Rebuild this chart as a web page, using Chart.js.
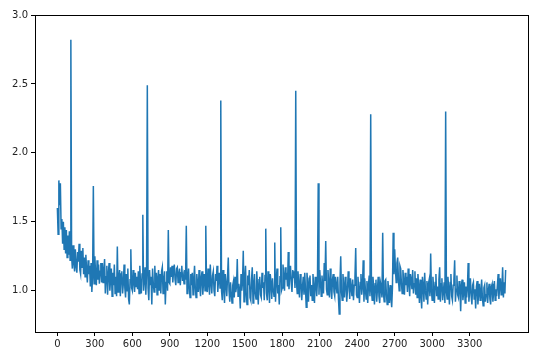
<!DOCTYPE html>
<html>
<head>
<meta charset="utf-8">
<script src="https://cdn.jsdelivr.net/npm/chart.js@4.4.1/dist/chart.umd.min.js"></script>
<style>
  body { margin: 0; background: #fff; }
  #chart { display: block; }
</style>
</head>
<body>
<canvas id="chart" width="540" height="360"></canvas>
<script>
// one reading every 6 steps along x
const sampleStep = 6;

// values (20 per 120 steps), zig-zagging through the noise band
const series = [
  1.60, 1.41, 1.80, 1.62, 1.78, 1.45, 1.52, 1.34, 1.50, 1.30,
  1.46, 1.27, 1.44, 1.24, 1.40, 1.26, 1.43, 1.22, 2.82, 1.25,
  1.16, 1.33, 1.20, 1.14, 1.30, 1.18, 1.13, 1.28, 1.21, 1.34,
  1.15, 1.12, 1.29, 1.17, 1.31, 1.12, 1.24, 1.10, 1.26, 1.15,
  1.06, 1.22, 1.12, 1.18, 1.03, 1.20, 0.99, 1.10, 1.76, 1.05,
  1.25, 1.12, 1.04, 1.22, 1.08, 1.19, 1.05, 1.14, 1.20, 1.06,
  1.20, 1.06, 1.15, 1.23, 0.98, 1.10, 1.18, 0.97, 1.12, 1.20,
  1.00, 1.08, 1.16, 0.96, 1.13, 1.04, 1.19, 0.98, 1.10, 0.96,
  1.32, 0.99, 1.09, 1.15, 0.96, 1.12, 1.14, 0.98, 1.05, 1.19,
  1.02, 0.95, 1.12, 1.00, 1.16, 0.94, 0.90, 1.08, 1.30, 1.02,
  1.00, 1.15, 1.06, 0.99, 1.13, 1.03, 1.10, 1.01, 1.14, 0.98,
  1.18, 1.04, 0.98, 1.12, 1.55, 1.00, 1.08, 1.17, 0.97, 1.12,
  2.49, 1.02, 0.93, 1.15, 1.04, 1.10, 0.90, 1.16, 1.05, 0.99,
  1.18, 1.02, 1.13, 0.97, 1.09, 1.15, 1.00, 1.12, 0.98, 1.14,
  1.17, 0.98, 1.08, 1.14, 0.90, 1.06, 1.14, 1.00, 1.44, 1.06,
  1.05, 1.17, 1.10, 1.18, 1.06, 1.14, 1.19, 1.08, 1.04, 1.16,
  1.17, 1.06, 1.12, 1.16, 1.04, 1.13, 1.18, 1.07, 1.11, 1.05,
  1.15, 1.08, 1.47, 0.98, 1.06, 1.16, 1.02, 0.95, 1.12, 1.04,
  1.13, 0.97, 1.08, 1.18, 1.02, 0.95, 1.12, 1.05, 0.99, 1.15,
  1.03, 0.96, 1.10, 1.14, 0.97, 1.06, 1.12, 1.00, 1.47, 1.03,
  0.99, 1.16, 1.05, 0.97, 1.19, 1.06, 0.98, 1.11, 1.14, 1.00,
  0.96, 1.12, 1.07, 1.18, 0.99, 1.08, 1.13, 1.02, 2.38, 1.00,
  0.93, 1.15, 1.02, 0.91, 1.12, 1.05, 0.96, 1.10, 1.24, 1.00,
  0.92, 1.06, 0.98, 0.91, 1.04, 1.07, 0.95, 1.10, 0.99, 1.03,
  1.23, 0.96, 1.05, 1.01, 0.87, 1.12, 1.00, 1.06, 1.29, 0.92,
  1.09, 1.18, 0.97, 0.90, 1.11, 1.04, 1.15, 0.95, 0.93, 1.08,
  1.17, 0.91, 1.04, 1.12, 0.98, 0.94, 1.14, 1.03, 0.90, 1.08,
  1.10, 0.97, 0.95, 1.13, 1.02, 1.06, 0.93, 1.11, 1.45, 0.98,
  0.93, 1.14, 1.03, 0.91, 1.12, 1.06, 0.94, 1.09, 1.01, 0.96,
  1.35, 0.92, 1.07, 1.16, 0.98, 1.04, 0.90, 1.10, 1.46, 1.00,
  1.02, 1.19, 1.10, 1.00, 1.17, 1.08, 1.13, 1.03, 1.28, 1.01,
  1.12, 1.18, 1.05, 0.99, 1.15, 1.09, 1.14, 1.02, 2.45, 1.06,
  0.98, 1.14, 1.04, 0.95, 1.12, 1.07, 0.93, 1.03, 1.10, 0.97,
  1.13, 1.01, 0.88, 1.13, 1.05, 0.92, 1.09, 1.11, 0.96, 1.04,
  0.93, 1.12, 1.02, 0.91, 1.10, 1.05, 0.96, 1.08, 1.78, 0.97,
  1.15, 1.06, 0.96, 1.11, 1.03, 0.98, 1.20, 1.07, 1.36, 1.01,
  0.97, 1.15, 1.05, 0.95, 1.16, 1.03, 0.94, 1.08, 1.12, 0.99,
  0.96, 1.10, 1.04, 0.98, 1.10, 0.94, 0.83, 1.06, 1.25, 0.99,
  0.93, 1.12, 1.03, 0.95, 1.10, 1.06, 0.92, 1.00, 1.14, 1.05,
  0.94, 1.09, 1.02, 0.96, 1.08, 0.93, 1.04, 1.10, 1.31, 0.97,
  0.95, 1.10, 1.01, 0.91, 1.06, 1.12, 0.97, 1.03, 1.22, 0.92,
  1.09, 1.00, 0.94, 1.07, 0.91, 1.04, 1.11, 0.96, 2.28, 1.00,
  0.93, 1.10, 1.02, 0.90, 1.05, 1.08, 0.92, 1.01, 1.10, 0.96,
  0.91, 1.06, 1.03, 0.95, 1.42, 0.98, 0.92, 1.07, 1.08, 0.97,
  0.90, 1.07, 1.00, 0.91, 1.04, 0.95, 0.88, 1.02, 1.42, 1.12,
  1.30, 1.15, 1.06, 1.20, 1.24, 1.08, 1.00, 1.18, 1.16, 1.05,
  0.98, 1.15, 1.07, 0.97, 1.13, 1.04, 1.10, 0.99, 1.16, 1.06,
  0.96, 1.12, 1.08, 1.01, 1.15, 0.98, 1.05, 1.14, 0.97, 1.09,
  0.95, 1.12, 1.03, 0.91, 1.08, 0.97, 0.87, 1.10, 1.04, 0.92,
  1.13, 1.00, 0.94, 1.07, 0.90, 1.05, 1.08, 0.96, 1.27, 1.00,
  0.93, 1.10, 1.01, 0.91, 1.06, 1.12, 0.96, 1.03, 0.94, 1.08,
  1.17, 0.92, 1.05, 1.09, 0.93, 1.00, 1.06, 0.91, 2.30, 0.99,
  0.94, 1.10, 1.02, 0.90, 1.06, 1.12, 0.96, 0.93, 1.04, 1.08,
  1.22, 0.92, 1.01, 1.11, 0.97, 0.95, 1.07, 1.02, 0.85, 1.04,
  1.08, 0.93, 0.99, 1.06, 0.91, 1.03, 0.95, 1.02, 1.20, 0.92,
  1.00, 1.09, 0.96, 0.90, 1.04, 1.06, 0.94, 1.01, 0.87, 1.03,
  1.07, 0.90, 0.98, 1.05, 0.93, 0.99, 1.08, 0.95, 0.89, 1.02,
  1.04, 0.92, 0.97, 1.06, 0.91, 1.00, 1.05, 0.94, 0.90, 1.03,
  1.05, 0.92, 0.99, 1.07, 0.93, 1.01, 0.96, 1.04, 1.12, 0.94,
  1.03, 1.09, 0.97, 1.02, 1.17, 0.95, 1.06, 0.98, 1.15,
];

const xTicks = [0, 300, 600, 900, 1200, 1500, 1800, 2100, 2400, 2700, 3000, 3300];
const yTicks = [1.0, 1.5, 2.0, 2.5, 3.0];

const points = series.map((v, i) => ({ x: i * sampleStep, y: v }));

// matplotlib-style box around the plot area
const frame = {
  id: 'frame',
  afterDraw(chart) {
    const { ctx, chartArea: a } = chart;
    ctx.save();
    ctx.strokeStyle = '#000';
    ctx.lineWidth = 1;
    ctx.strokeRect(Math.round(a.left) + 0.5, Math.round(a.top) + 0.5,
      Math.round(a.right - a.left), Math.round(a.bottom - a.top));
    ctx.restore();
  },
};

const tickFont = { family: 'DejaVu Sans', size: 10 };

new Chart(document.getElementById('chart'), {
  type: 'line',
  data: {
    datasets: [{
      data: points,
      borderColor: '#1f77b4',
      borderWidth: 1.5,
      pointRadius: 0,
      tension: 0,
      fill: false,
    }],
  },
  options: {
    responsive: false,
    animation: false,
    layout: { padding: { top: 15, right: 12, left: 0, bottom: 0 } },
    plugins: { legend: { display: false }, tooltip: { enabled: false } },
    scales: {
      x: {
        type: 'linear',
        min: -179,
        max: 3767,
        afterFit: (s) => { s.height = 28; },
        afterBuildTicks: (s) => { s.ticks = xTicks.map((v) => ({ value: v })); },
        border: { display: false },
        grid: { drawOnChartArea: false, drawTicks: true, tickLength: 4, color: '#000' },
        ticks: {
          font: tickFont, color: '#222', padding: 2, maxRotation: 0, autoSkip: false,
          callback: (v) => String(v),
        },
      },
      y: {
        min: 0.7,
        max: 3.0,
        afterFit: (s) => { s.width = 35; },
        afterBuildTicks: (s) => { s.ticks = yTicks.map((v) => ({ value: v })); },
        border: { display: false },
        grid: { drawOnChartArea: false, drawTicks: true, tickLength: 4, color: '#000' },
        ticks: { font: tickFont, color: '#222', padding: 3, callback: (v) => v.toFixed(1) },
      },
    },
  },
  plugins: [frame],
});
</script>
</body>
</html>
